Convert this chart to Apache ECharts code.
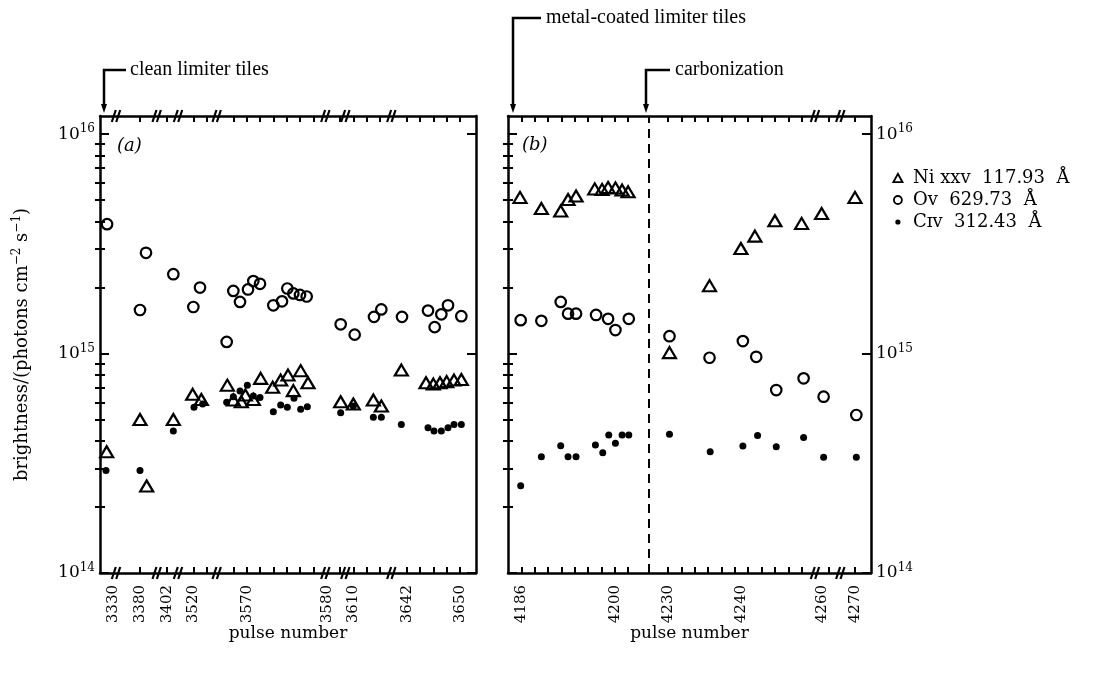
<!DOCTYPE html>
<html><head><meta charset="utf-8">
<script src="https://cdn.jsdelivr.net/npm/echarts@6/dist/echarts.min.js"></script>
<style>html,body{margin:0;padding:0;background:#fff}#c{width:1097px;height:683px}</style>
</head><body><div id="c"></div>
<script>
// ---------------- data ----------------
// y axis (log) tick values
const yTickMajor = [1e14, 1e15, 1e16];
const yTickMinor = [2e14,3e14,4e14,5e14,6e14,7e14,8e14,9e14,2e15,3e15,4e15,5e15,6e15,7e15,8e15,9e15];

// Series names (legend)
const NAME_NI = 'Ni xxv  117.93  Å';
const NAME_O  = 'Ov  629.73  Å';
const NAME_C  = 'Cɪv  312.43  Å';

// Panel (a): positions along the broken pulse axis (tick units)
const aTickPos   = [3,5,7,8,10,11,12,13,14,15,16,18,19,20,21,23,24,25,26,27];
const aLabelPos  = [1,3,5,7,11,17,19,23,27];
const aLabelText = ['3330','3380','3402','3520','3570','3580','3610','3642','3650'];
const aBreakPos  = [1.2,4.25,5.85,8.75,16.9,18.4,21.85];

const aNiPos = [0.5,3.0,3.5,5.5,6.95,7.6,9.55,10.0,10.6,10.9,11.5,12.05,12.95,13.55,14.1,14.5,15.05,15.6,18.05,19.0,20.5,21.1,22.6,24.45,25.0,25.5,26.0,26.55,27.1];
const aNiVal = [3.57e14,5.01e14,2.49e14,5.01e14,6.52e14,6.18e14,7.18e14,6.14e14,6.03e14,6.47e14,6.18e14,7.71e14,7.02e14,7.57e14,7.98e14,6.78e14,8.36e14,7.36e14,6.03e14,5.89e14,6.14e14,5.77e14,8.41e14,7.36e14,7.26e14,7.36e14,7.45e14,7.57e14,7.62e14];
const aOPos  = [0.53,3.0,3.45,5.5,7.0,7.5,9.5,10.0,10.5,11.1,11.5,12.0,13.0,13.65,14.05,14.5,15.0,15.5,18.05,19.1,20.55,21.1,22.65,24.6,25.1,25.6,26.1,27.1];
const aOVal  = [3.89e15,1.58e15,2.88e15,2.30e15,1.63e15,2.00e15,1.13e15,1.93e15,1.72e15,1.96e15,2.14e15,2.08e15,1.66e15,1.73e15,1.98e15,1.88e15,1.85e15,1.82e15,1.36e15,1.22e15,1.47e15,1.59e15,1.47e15,1.57e15,1.32e15,1.51e15,1.66e15,1.48e15];
const aCPos  = [0.45,3.0,5.5,7.05,7.7,9.5,10.0,10.5,11.05,11.5,12.0,13.0,13.55,14.05,14.55,15.05,15.55,18.05,19.0,20.5,21.1,22.6,24.6,25.05,25.6,26.1,26.55,27.1];
const aCVal  = [2.93e14,2.93e14,4.44e14,5.69e14,5.89e14,6.00e14,6.36e14,6.75e14,7.18e14,6.40e14,6.31e14,5.43e14,5.83e14,5.69e14,6.25e14,5.57e14,5.73e14,5.37e14,5.77e14,5.12e14,5.12e14,4.75e14,4.59e14,4.44e14,4.44e14,4.59e14,4.75e14,4.75e14];

// Panel (b)
const bTickPos   = [1,2,3,4,5,6,7,8,9,12,13,14,15,16,17,18,19,20,21,22,24,26];
const bLabelPos  = [1,8,12,17.5,23.5,26];
const bLabelText = ['4186','4200','4230','4240','4260','4270'];
const bBreakPos  = [23.0,24.9];
const bCarbonPos = 10.55;

const bNiPos = [0.9,2.5,3.95,4.5,5.1,6.5,7.05,7.5,8.05,8.55,9.0,12.1,15.1,17.45,18.5,20.0,22.0,23.5,26.0];
const bNiVal = [5.15e15,4.58e15,4.46e15,5.04e15,5.23e15,5.63e15,5.60e15,5.72e15,5.69e15,5.56e15,5.46e15,1.01e15,2.04e15,3.01e15,3.43e15,4.03e15,3.92e15,4.35e15,5.15e15];
const bOPos  = [0.95,2.5,3.95,4.5,5.1,6.6,7.5,8.05,9.05,12.1,15.1,17.6,18.6,20.1,22.15,23.65,26.1];
const bOVal  = [1.42e15,1.41e15,1.72e15,1.52e15,1.52e15,1.50e15,1.44e15,1.28e15,1.44e15,1.20e15,9.57e14,1.14e15,9.67e14,6.82e14,7.71e14,6.36e14,5.25e14];
const bCPos  = [0.95,2.5,3.95,4.5,5.1,6.55,7.1,7.55,8.05,8.55,9.05,12.1,15.15,17.6,18.7,20.1,22.15,23.65,26.1];
const bCVal  = [2.50e14,3.39e14,3.80e14,3.39e14,3.39e14,3.83e14,3.53e14,4.25e14,3.90e14,4.25e14,4.25e14,4.29e14,3.57e14,3.79e14,4.23e14,3.76e14,4.15e14,3.37e14,3.37e14];

// ---------------- chart ----------------
const INK = '#000';
const SERIF = 'DejaVu Serif';
const NOTE = 'Liberation Serif';
const Y_MIN = 1e14, Y_MAX = 1.21e16;

const zip = (p, v) => p.map((x, i) => [x, v[i]]);

const grids = [
  {left: 100, top: 116, width: 376, height: 457},
  {left: 508, top: 116, width: 363, height: 457}
];
const xMax = [28.2, 27.2];
const panels = [
  {tick: aTickPos, labPos: aLabelPos, labText: aLabelText, brk: aBreakPos,
   ni: zip(aNiPos, aNiVal), o: zip(aOPos, aOVal), c: zip(aCPos, aCVal)},
  {tick: bTickPos, labPos: bLabelPos, labText: bLabelText, brk: bBreakPos,
   ni: zip(bNiPos, bNiVal), o: zip(bOPos, bOVal), c: zip(bCPos, bCVal)}
];

const xAxes = [], yAxes = [], series = [];
const supRich = {
  b: {fontFamily: SERIF, fontSize: 17, color: INK, lineHeight: 22},
  s: {fontFamily: SERIF, fontSize: 12, color: INK, verticalAlign: 'top', lineHeight: 13}
};
const powLabel = v => '{b|10}{s|' + Math.round(Math.log10(v)) + '}';

panels.forEach((P, g) => {
  // bottom x axis
  xAxes.push({
    type: 'value', gridIndex: g, position: 'bottom', min: 0, max: xMax[g],
    axisLine: {show: true, onZero: false, lineStyle: {color: INK, width: 2.5}},
    axisTick: {show: true, inside: true, length: 6, lineStyle: {color: INK, width: 2}, customValues: P.tick},
    axisLabel: {show: true, rotate: 90, margin: 12, fontFamily: SERIF, fontSize: 15, color: INK,
      customValues: P.labPos, formatter: v => P.labText[P.labPos.indexOf(v)] || ''},
    splitLine: {show: false},
    name: 'pulse number', nameLocation: 'middle', nameGap: 52, nameMoveOverlap: false,
    nameTextStyle: {fontFamily: SERIF, fontSize: 17, color: INK}
  });
  // top x axis
  xAxes.push({
    type: 'value', gridIndex: g, position: 'top', min: 0, max: xMax[g],
    axisLine: {show: true, onZero: false, lineStyle: {color: INK, width: 2.5}},
    axisTick: {show: true, inside: true, length: 6, lineStyle: {color: INK, width: 2}, customValues: P.tick},
    axisLabel: {show: false}, splitLine: {show: false}
  });
  ['left', 'right'].forEach(side => {
    const showLab = (g === 0 && side === 'left') || (g === 1 && side === 'right');
    const major = {
      type: 'log', gridIndex: g, position: side, min: Y_MIN, max: Y_MAX, logBase: 10,
      axisLine: {show: true, onZero: false, lineStyle: {color: INK, width: 2.5}},
      axisTick: {show: true, inside: true, length: 9, lineStyle: {color: INK, width: 2}, customValues: yTickMajor},
      axisLabel: {show: showLab, margin: 5, customValues: yTickMajor, formatter: powLabel, rich: supRich},
      splitLine: {show: false}, minorTick: {show: false}
    };
    if (g === 0 && side === 'left') {
      major.name = '{t|brightness/(photons cm}{s|−2}{t| s}{s|−1}{t|)}';
      major.nameLocation = 'middle';
      major.nameGap = 67;
      major.nameMoveOverlap = false;
      major.nameTextStyle = {rich: {
        t: {fontFamily: SERIF, fontSize: 18, color: INK, lineHeight: 22},
        s: {fontFamily: SERIF, fontSize: 12, color: INK, verticalAlign: 'top', lineHeight: 13}
      }};
    }
    yAxes.push(major);
    yAxes.push({
      type: 'log', gridIndex: g, position: side, min: Y_MIN, max: Y_MAX, logBase: 10,
      axisLine: {show: false},
      axisTick: {show: true, inside: true, length: 5, lineStyle: {color: INK, width: 2}, customValues: yTickMinor},
      axisLabel: {show: false}, splitLine: {show: false}
    });
  });

  const xi = g * 2, yi = g * 4;
  const hollow = {color: 'rgba(0,0,0,0)', borderColor: INK, borderWidth: 2.2, opacity: 1};
  const niS = {type: 'scatter', name: NAME_NI, xAxisIndex: xi, yAxisIndex: yi, data: P.ni,
    symbol: 'triangle', symbolSize: [13, 11], itemStyle: hollow, z: 3};
  if (g === 1) {
    niS.markLine = {silent: true, symbol: 'none', label: {show: false},
      lineStyle: {type: [9, 6], color: INK, width: 2}, data: [{xAxis: bCarbonPos}]};
  }
  series.push(niS);
  series.push({type: 'scatter', name: NAME_O, xAxisIndex: xi, yAxisIndex: yi, data: P.o,
    symbol: 'circle', symbolSize: 10.5, itemStyle: hollow, z: 3});
  series.push({type: 'scatter', name: NAME_C, xAxisIndex: xi, yAxisIndex: yi, data: P.c,
    symbol: 'circle', symbolSize: 7, itemStyle: {color: INK, opacity: 1}, z: 3});
  // axis-break marks "//" on top and bottom axes
  series.push({
    type: 'custom', xAxisIndex: xi, yAxisIndex: yi, clip: false, silent: true, z: 5,
    data: P.brk.map(p => [p, 1e15]),
    renderItem: (params, api) => {
      const x = api.coord([api.value(0), 1e15])[0];
      const cs = params.coordSys;
      const children = [];
      [cs.y, cs.y + cs.height].forEach(y => {
        [-2.2, 2.2].forEach(dx => children.push({
          type: 'line',
          shape: {x1: x + dx - 2, y1: y + 6, x2: x + dx + 2, y2: y - 6},
          style: {stroke: INK, lineWidth: 2.2}
        }));
      });
      return {type: 'group', children};
    }
  });
});

function arrowNote(xv, yTop, yTip, barLen, text, tx) {
  return [
    {type: 'polyline', shape: {points: [[xv + barLen, yTop], [xv, yTop], [xv, yTip - 8]]},
     style: {stroke: INK, lineWidth: 2.5, fill: null}},
    {type: 'polygon', shape: {points: [[xv - 3, yTip - 9], [xv + 3, yTip - 9], [xv, yTip]]},
     style: {fill: INK}},
    {type: 'text', x: tx, y: yTop, style: {text: text, fontFamily: NOTE, fontSize: 20,
      fill: INK, verticalAlign: 'middle', textAlign: 'left'}}
  ];
}

const graphics = [].concat(
  arrowNote(104, 70, 113, 22, 'clean limiter tiles', 130),
  arrowNote(513, 18, 113, 28, 'metal-coated limiter tiles', 546),
  arrowNote(646, 70, 113, 24, 'carbonization', 675),
  [
    {type: 'text', x: 117, y: 146, style: {text: '(a)', fontFamily: SERIF, fontStyle: 'italic',
      fontSize: 18, fill: INK, verticalAlign: 'middle'}},
    {type: 'text', x: 522, y: 145, style: {text: '(b)', fontFamily: SERIF, fontStyle: 'italic',
      fontSize: 18, fill: INK, verticalAlign: 'middle'}}
  ]
);

const legendHollow = {color: 'rgba(0,0,0,0)', borderColor: INK, borderWidth: 1.8};
const option = {
  backgroundColor: '#fff',
  animation: false,
  grid: grids,
  xAxis: xAxes,
  yAxis: yAxes,
  series: series,
  legend: {
    orient: 'vertical', left: 886, top: 164, itemWidth: 12, itemHeight: 12, itemGap: 4,
    selectedMode: false,
    formatter: n => '{t|' + n + '}',
    textStyle: {fontFamily: SERIF, fontSize: 18, color: INK,
      rich: {t: {fontFamily: SERIF, fontSize: 18, color: INK, padding: [0, 0, 0, 4], lineHeight: 22}}},
    data: [
      {name: NAME_NI, icon: 'path://M0,0M12,12M6,1.8L10.6,10.2L1.4,10.2Z', itemStyle: legendHollow},
      {name: NAME_O, icon: 'path://M0,0M12,12M10,6A4,4,0,1,1,2,6A4,4,0,1,1,10,6Z', itemStyle: legendHollow},
      {name: NAME_C, icon: 'path://M0,0M12,12M8.6,6A2.6,2.6,0,1,1,3.4,6A2.6,2.6,0,1,1,8.6,6Z',
       itemStyle: {color: INK, borderWidth: 0}}
    ]
  },
  graphic: graphics
};

const chart = echarts.init(document.getElementById('c'), null, {renderer: 'canvas'});
chart.setOption(option);
</script>
</body></html>
